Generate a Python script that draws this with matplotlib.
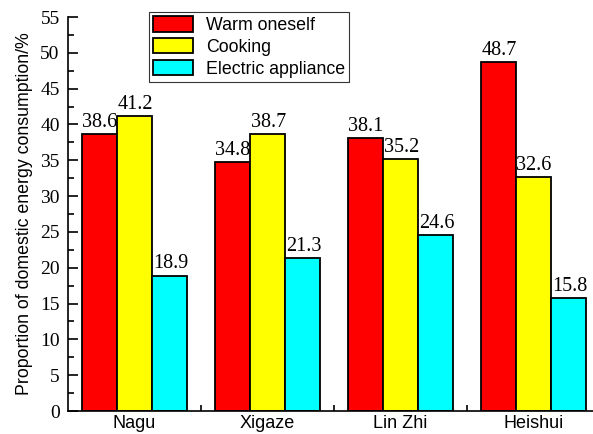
import matplotlib
matplotlib.use("Agg")
import matplotlib.pyplot as plt
import numpy as np
from matplotlib.ticker import MultipleLocator, FixedLocator

sites = ["Nagu", "Xigaze", "Lin Zhi", "Heishui"]
warm = [38.6, 34.8, 38.1, 48.7]
cooking = [41.2, 38.7, 35.2, 32.6]
electric = [18.9, 21.3, 24.6, 15.8]
series_names = ["Warm oneself", "Cooking", "Electric appliance"]
colors = ["#ff0000", "#ffff00", "#00ffff"]

fig = plt.figure(figsize=(5.93, 4.34), dpi=100)
ax = fig.add_axes([68/593, 23/434, 532/593, 394/434])

x = np.arange(len(sites))
w = 0.265
for i, (vals, name, c) in enumerate(zip([warm, cooking, electric], series_names, colors)):
    pos = x + (i - 1) * w
    ax.bar(pos, vals, width=w, color=c, edgecolor="black", linewidth=1.3, label=name, zorder=2)
    for p, v in zip(pos, vals):
        ax.text(p + 0.005, v + 0.3, f"{v:.1f}", ha="center", va="bottom",
                family="Liberation Serif", fontsize=14.5)

ax.set_xlim(-0.5, 3.5)
ax.set_ylim(0, 55)
ax.yaxis.set_major_locator(MultipleLocator(5))
ax.yaxis.set_minor_locator(MultipleLocator(2.5))
ax.set_xticks(x)
ax.set_xticklabels(sites, family="Liberation Sans", fontsize=13)
ax.xaxis.set_minor_locator(FixedLocator([0.5, 1.5, 2.5]))
ax.tick_params(axis="both", which="major", direction="in", length=7, width=1.2)
ax.tick_params(axis="both", which="minor", direction="in", length=4, width=1.2)
ax.tick_params(axis="x", pad=3)
ax.tick_params(axis="y", pad=6)
for lab in ax.get_yticklabels():
    lab.set_family("Liberation Serif")
    lab.set_fontsize(14)
ax.spines["top"].set_visible(False)
ax.spines["right"].set_visible(False)
ax.spines["left"].set_linewidth(1.2)
ax.spines["bottom"].set_linewidth(1.2)
ax.set_ylabel("Proportion of domestic energy consumption/%", family="Liberation Sans", fontsize=12.8, labelpad=5)

leg = ax.legend(loc="upper left",
                prop={"family": "Liberation Sans", "size": 12.8}, frameon=True, fancybox=False,
                edgecolor="black", handlelength=2.2, handleheight=0.95, borderpad=0.25, labelspacing=0.22,
                handletextpad=0.75, borderaxespad=0)
leg.set_bbox_to_anchor((149/593, 1 - 12/434), transform=fig.transFigure)
leg.get_frame().set_linewidth(0.8)

fig.savefig("out.png", dpi=100)
